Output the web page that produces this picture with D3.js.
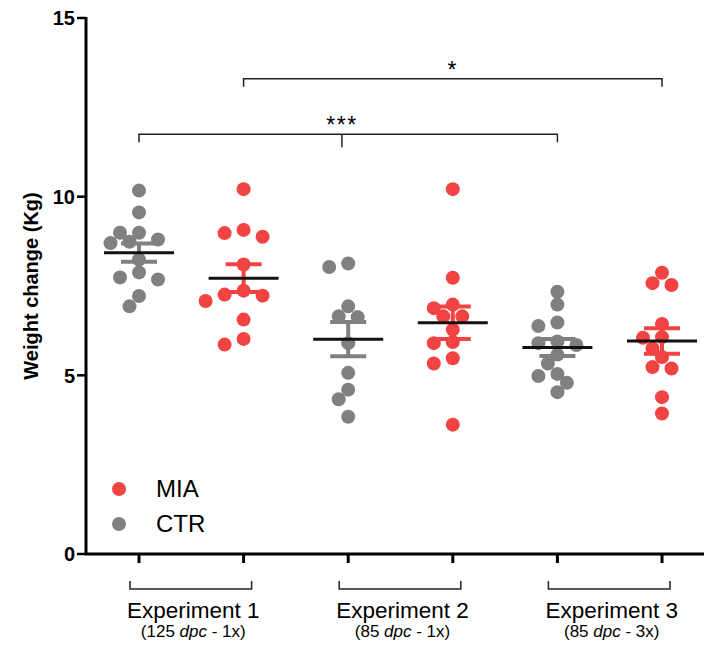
<!DOCTYPE html>
<html>
<head>
<meta charset="utf-8">
<script src="https://cdn.jsdelivr.net/npm/d3@7"></script>
<style>
  body { margin: 0; background: white; }
  text { font-family: Arial, "Liberation Sans", sans-serif; }
</style>
</head>
<body>
<div id="here"></div>
<script>
var w = 704, h = 646;

var groups = ["CTR1", "MIA1", "CTR2", "MIA2", "CTR3", "MIA3"];
var experiments = ["Experiment 1", "Experiment 2", "Experiment 3"];
var dpcDays = ["125", "85", "85"];
var doses = ["1x", "1x", "3x"];
var yTicks = [0, 5, 10, 15];

// weight change (Kg), one array per experiment
var ctrWeight = [
  [10.17, 9.56, 8.99, 8.99, 8.80, 8.74, 8.70, 8.24, 7.88, 7.74, 7.68, 7.22, 6.93],
  [8.13, 8.03, 6.93, 6.65, 6.63, 5.90, 5.07, 4.60, 4.33, 3.84],
  [7.34, 6.98, 6.48, 6.38, 5.95, 5.90, 5.85, 5.58, 5.33, 5.04, 4.98, 4.79, 4.53]
];
var miaWeight = [
  [10.21, 9.07, 8.98, 8.88, 8.10, 7.37, 7.26, 7.23, 7.08, 6.56, 6.02, 5.86],
  [10.21, 7.73, 6.98, 6.88, 6.65, 6.65, 6.28, 5.93, 5.90, 5.48, 5.33, 3.62],
  [7.87, 7.58, 7.53, 6.44, 6.07, 6.05, 5.75, 5.51, 5.23, 5.19, 4.39, 3.93]
];

var legendItems = ["MIA", "CTR"];
var colors = {CTR: "#808080", MIA: "#f24343"};

// significance comparisons
var sigFrom = ["MIA1", "CTR1"];
var sigTo = ["MIA3", "CTR3"];
var sigLabel = ["*", "***"];
var sigLevel = [13.3, 11.75];

var y = d3.scaleLinear().domain([0, 15]).range([554, 18]);
var x = d3.scalePoint().domain(groups).range([139, 662]);

var svg = d3.select("#here").append("svg")
  .attr("width", w)
  .attr("height", h)
  .style("background", "white");

var table = [];
experiments.forEach(function(e, i) {
  table.push({key: "CTR" + (i + 1), kind: "CTR", values: ctrWeight[i]});
  table.push({key: "MIA" + (i + 1), kind: "MIA", values: miaWeight[i]});
});

var r = 7, step = 19, minDist = 12.5;
var offsets = [0, -0.5, 0.5, -1, 1, -1.5, 1.5, -2, 2];

function swarm(values, cx) {
  var placed = [];
  values.slice().sort(function(a, b) { return b - a; }).forEach(function(v) {
    var py = y(v), px = cx;
    for (var k = 0; k < offsets.length; k++) {
      px = cx + offsets[k] * step;
      var ok = placed.every(function(p) { return Math.hypot(p.x - px, p.y - py) >= minDist; });
      if (ok) break;
    }
    placed.push({x: px, y: py});
  });
  return placed;
}

// axes
svg.append("line")
  .attr("x1", 86).attr("x2", 86)
  .attr("y1", y(15) - 1).attr("y2", y(0) + 1)
  .attr("stroke", "black").attr("stroke-width", 3);
svg.append("line")
  .attr("x1", 85).attr("x2", w + 5)
  .attr("y1", y(0)).attr("y2", y(0))
  .attr("stroke", "black").attr("stroke-width", 3);

var yt = svg.selectAll(".ytick").data(yTicks).enter().append("g");
yt.append("line")
  .attr("x1", 77).attr("x2", 86)
  .attr("y1", function(d) { return y(d); })
  .attr("y2", function(d) { return y(d); })
  .attr("stroke", "black").attr("stroke-width", 2.5);
yt.append("text")
  .attr("x", 75)
  .attr("y", function(d) { return y(d); })
  .attr("dy", "0.36em")
  .style("text-anchor", "end")
  .style("font-size", "20px")
  .style("font-weight", "bold")
  .text(function(d) { return d; });

svg.append("text")
  .attr("transform", "translate(38," + y(7.5) + ") rotate(-90)")
  .style("text-anchor", "middle")
  .style("font-size", "20px")
  .style("font-weight", "bold")
  .text("Weight change (Kg)");

svg.selectAll(".xtick").data(groups).enter().append("line")
  .attr("x1", function(d) { return x(d); })
  .attr("x2", function(d) { return x(d); })
  .attr("y1", y(0)).attr("y2", y(0) + 9)
  .attr("stroke", "black").attr("stroke-width", 3);

// experiment brackets and labels
var ex = svg.selectAll(".exp").data(experiments).enter().append("g");
ex.append("path")
  .attr("d", function(d, i) {
    var a = x("CTR" + (i + 1)) - 9, b = x("MIA" + (i + 1)) + 8;
    return "M" + a + ",581V589H" + b + "V581";
  })
  .attr("fill", "none").attr("stroke", "#222").attr("stroke-width", 1.5);
ex.append("text")
  .attr("x", function(d, i) { return (x("CTR" + (i + 1)) + x("MIA" + (i + 1))) / 2 + 2; })
  .attr("y", 618)
  .style("text-anchor", "middle")
  .style("font-size", "22.5px")
  .text(function(d) { return d; });
var sub = ex.append("text")
  .attr("x", function(d, i) { return (x("CTR" + (i + 1)) + x("MIA" + (i + 1))) / 2 + 2; })
  .attr("y", 637)
  .style("text-anchor", "middle")
  .style("font-size", "17px");
sub.append("tspan").text(function(d, i) { return "(" + dpcDays[i] + " "; });
sub.append("tspan").style("font-style", "italic").text("dpc");
sub.append("tspan").text(function(d, i) { return " - " + doses[i] + ")"; });

// points
var grp = svg.selectAll(".grp").data(table).enter().append("g");
grp.selectAll("circle")
  .data(function(d) { return swarm(d.values, x(d.key)).map(function(p) { p.kind = d.kind; return p; }); })
  .enter().append("circle")
  .attr("cx", function(p) { return p.x; })
  .attr("cy", function(p) { return p.y; })
  .attr("r", r)
  .attr("fill", function(p) { return colors[p.kind]; });

// mean and SEM
grp.each(function(d) {
  var g = d3.select(this);
  var m = d3.mean(d.values);
  var sem = d3.deviation(d.values) / Math.sqrt(d.values.length);
  var cx = x(d.key), c = colors[d.kind];
  g.append("line")
    .attr("x1", cx).attr("x2", cx)
    .attr("y1", y(m + sem)).attr("y2", y(m - sem))
    .attr("stroke", c).attr("stroke-width", 4);
  [m + sem, m - sem].forEach(function(v) {
    g.append("line")
      .attr("x1", cx - 18).attr("x2", cx + 18)
      .attr("y1", y(v)).attr("y2", y(v))
      .attr("stroke", c).attr("stroke-width", 4);
  });
  g.append("line")
    .attr("x1", cx - 35).attr("x2", cx + 35)
    .attr("y1", y(m)).attr("y2", y(m))
    .attr("stroke", "#111").attr("stroke-width", 3);
});

// significance brackets
sigLabel.forEach(function(lab, i) {
  var a = x(sigFrom[i]), b = x(sigTo[i]), ly = y(sigLevel[i]);
  var g = svg.append("g");
  g.append("path")
    .attr("d", "M" + a + "," + (ly + 8) + "V" + ly + "H" + b + "V" + (ly + 8))
    .attr("fill", "none").attr("stroke", "#222").attr("stroke-width", 1.5);
  var mid = i == 1 ? a + (b - a) * 0.485 : (a + b) / 2;
  if (i == 1) {
    g.append("line")
      .attr("x1", mid).attr("x2", mid)
      .attr("y1", ly).attr("y2", ly + 13)
      .attr("stroke", "#222").attr("stroke-width", 1.5);
  }
  g.append("text")
    .attr("x", mid)
    .attr("y", ly - 1)
    .style("text-anchor", "middle")
    .style("font-size", "23px")
    .style("letter-spacing", "1.5px")
    .text(lab);
});

// legend
var lg = svg.selectAll(".legend").data(legendItems).enter().append("g");
lg.append("circle")
  .attr("cx", 119)
  .attr("cy", function(d, i) { return 489 + i * 35; })
  .attr("r", r)
  .attr("fill", function(d) { return colors[d]; });
lg.append("text")
  .attr("x", 156)
  .attr("y", function(d, i) { return 497 + i * 35; })
  .style("font-size", "24px")
  .text(function(d) { return d; });
</script>
</body>
</html>
